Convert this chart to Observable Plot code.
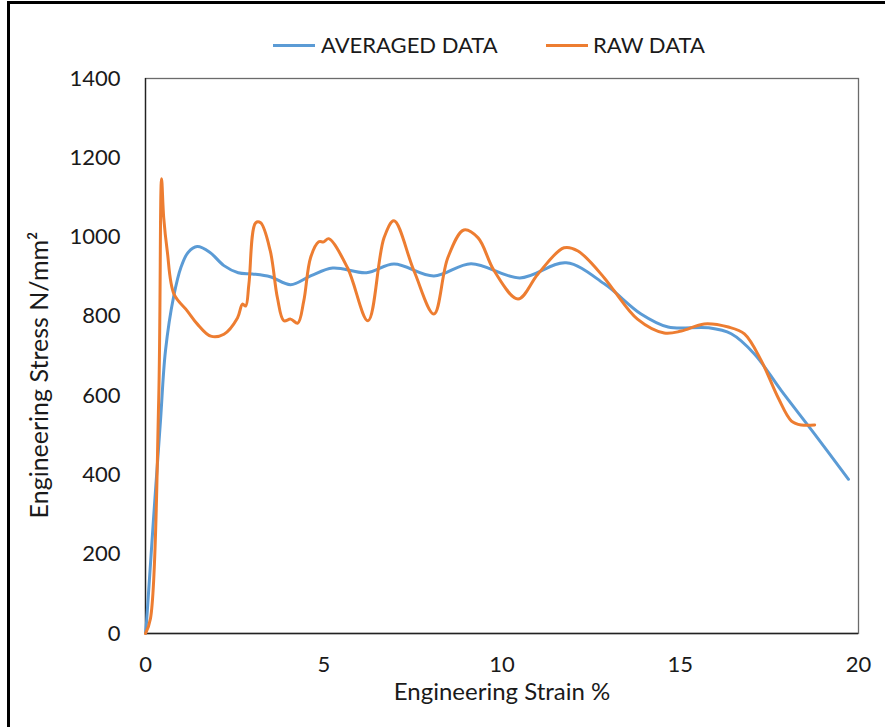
<!DOCTYPE html>
<html>
<head>
<meta charset="utf-8">
<script src="https://cdn.jsdelivr.net/npm/d3@7"></script>
<script src="https://cdn.jsdelivr.net/npm/@observablehq/plot@0.6"></script>
<style>
  html, body { margin: 0; padding: 0; background: #fff; }
  body { width: 885px; height: 727px; position: relative; overflow: hidden; font-family: Lato, "Open Sans", sans-serif; }
  #border { position: absolute; left: 7px; top: 1px; width: 900px; height: 760px; border: 3px solid #000; box-sizing: border-box; pointer-events: none; }
  #legend { position: relative; height: 60px; }
  .sw { position: absolute; top: 44px; height: 3px; width: 42px; }
  .lt { position: absolute; top: 31px; font-size: 22px; line-height: 28px; color: #1a1a1a; }
  #chart { position: relative; }
</style>
</head>
<body>
<div id="legend">
  <div class="sw" style="left:273px;background:#5B9BD5"></div>
  <div class="lt" style="left:321px">AVERAGED DATA</div>
  <div class="sw" style="left:546px;background:#ED7D31"></div>
  <div class="lt" style="left:593px">RAW DATA</div>
</div>
<div id="chart"></div>
<div id="border"></div>
<script>
// Averaged data
const avgStrain = [0, 0.03, 0.22, 0.42, 0.56, 0.79, 1.0, 1.2, 1.45, 1.8, 2.2, 2.6, 3.0, 3.5, 4.07, 4.63, 5.25, 6.2, 6.97, 8.09, 9.13, 10.5, 11.8, 12.87, 13.9, 14.66, 15.8, 16.43, 17.08, 17.84, 18.77, 19.72];
const avgStress = [0, 30, 283, 536, 713, 850, 925, 962, 976, 962, 928, 910, 907, 900, 880, 902, 922, 910, 932, 902, 933, 897, 935, 882, 806, 773, 771, 756, 705, 612, 503, 389];
// Raw data
const rawStrain = [0, 0.14, 0.37, 0.45, 0.51, 0.61, 0.8, 1.17, 1.45, 1.83, 2.2, 2.58, 2.72, 2.81, 2.9, 3.09, 3.23, 3.5, 3.7, 3.88, 4.07, 4.27, 4.44, 4.63, 4.86, 5.0, 5.14, 5.67, 6.24, 6.69, 6.97, 7.53, 8.09, 8.48, 8.93, 9.33, 9.78, 10.45, 11.01, 11.74, 12.13, 12.87, 13.15, 13.8, 14.55, 15.03, 15.67, 16.35, 16.8, 17.28, 17.75, 18.12, 18.4, 18.77];
const rawStress = [0, 38, 589, 1147, 1050, 965, 856, 814, 781, 750, 755, 796, 831, 826, 881, 1036, 1036, 965, 847, 789, 793, 783, 839, 948, 988, 988, 996, 922, 789, 998, 1041, 915, 806, 948, 1018, 998, 915, 844, 907, 973, 965, 897, 864, 793, 758, 763, 781, 773, 756, 687, 594, 536, 526, 526];
const xTicks = [0, 5, 10, 15, 20];
const yTicks = [0, 200, 400, 600, 800, 1000, 1200, 1400];

const avg = avgStrain.map((x, i) => ({x, y: avgStress[i]}));
const raw = rawStrain.map((x, i) => ({x, y: rawStress[i]}));

const chart = Plot.plot({
  width: 885,
  height: 667,
  marginTop: 18,
  marginBottom: 94,
  marginLeft: 145,
  marginRight: 27,
  style: { fontFamily: "Lato, 'Open Sans', sans-serif", fontSize: "22px", color: "#1a1a1a", background: "#fff" },
  x: { domain: [0, 20], label: null },
  y: { domain: [0, 1400], label: null },
  marks: [
    Plot.frame({ stroke: "#6b6b6b", strokeWidth: 1.3 }),
    Plot.ruleX([0], { stroke: "#222", strokeWidth: 1.3 }),
    Plot.ruleY([0], { stroke: "#222", strokeWidth: 1.3 }),
    Plot.line(avg, { x: "x", y: "y", stroke: "#5B9BD5", strokeWidth: 3, curve: "catmull-rom" }),
    Plot.line(raw, { x: "x", y: "y", stroke: "#ED7D31", strokeWidth: 3, curve: "catmull-rom" }),
    Plot.axisX({ ticks: xTicks, tickSize: 0, tickPadding: 23, tickFormat: d3.format("d"), label: null, fontSize: 22 }),
    Plot.axisY({ ticks: yTicks, tickSize: 0, tickPadding: 25, tickFormat: d3.format("d"), label: null, fontSize: 22 }),
    Plot.text(["Engineering Strain %"], { frameAnchor: "bottom", textAnchor: "middle", dy: 66, fontSize: 24, fill: "#1a1a1a" }),
    Plot.text(["Engineering Stress N/mm²"], { frameAnchor: "left", textAnchor: "middle", rotate: -90, dx: -106, dy: 19, fontSize: 25, fill: "#1a1a1a" })
  ]
});
document.getElementById("chart").appendChild(chart);
</script>
</body>
</html>
